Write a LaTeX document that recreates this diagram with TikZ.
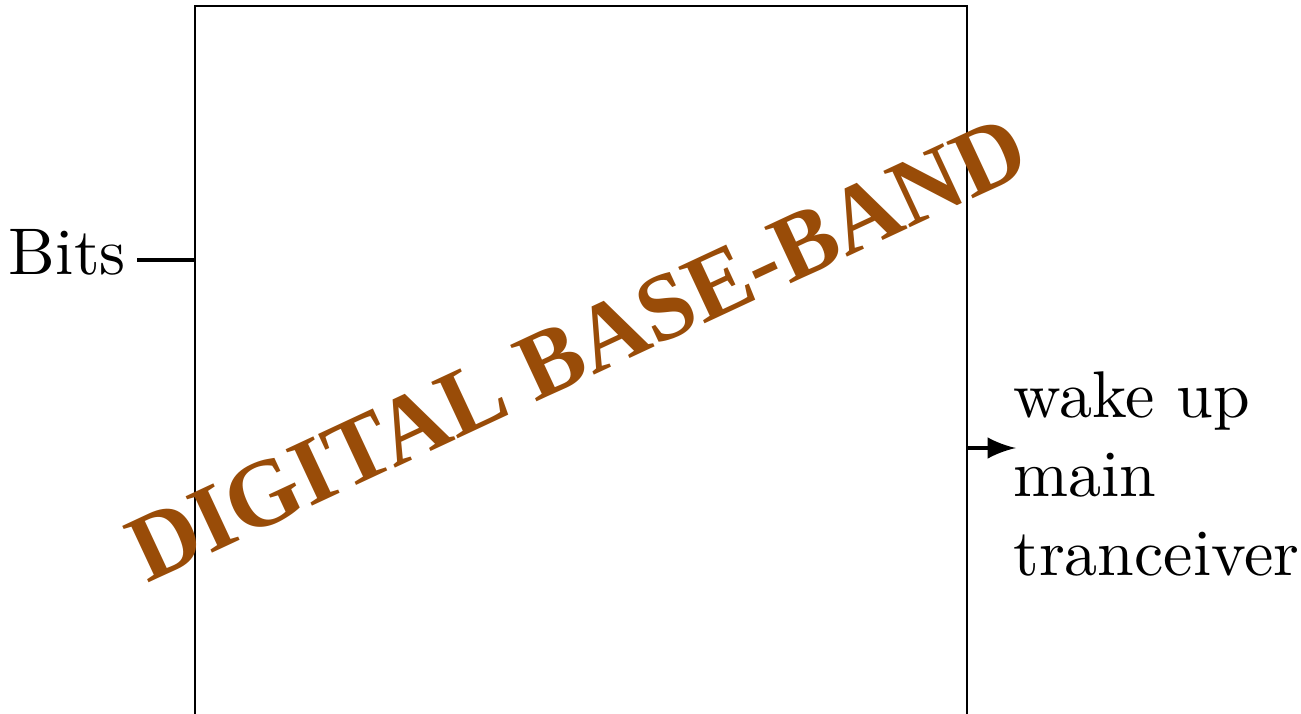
\documentclass[tikz,border=0pt]{standalone}
\usepackage{fontspec}
\newfontfamily\wmfont{Liberation Serif}
\definecolor{wmbrown}{RGB}{153,76,8}
\begin{document}
\begin{tikzpicture}[x=0.151515pt,y=-0.151515pt,
  lbl/.style={inner sep=0pt, font=\fontsize{10}{12}\selectfont},
  wm/.style={inner sep=0pt, text=wmbrown, font=\wmfont\bfseries\fontsize{14.4}{17}\selectfont},
  wire/.style={line width=0.6pt},
  sig/.style={line width=0.5pt, -latex}]
\useasboundingbox (0,0) rectangle (1301,713);
% block
\coordinate (tl) at (195,6);
\coordinate (br) at (967,760);
\draw[line width=0.4pt] (tl) rectangle (br);
% input
\node[lbl, anchor=base east] (bits) at (127,274) {Bits};
\coordinate (bin) at (195,260);
\coordinate (bstart) at (137,260);
\draw[wire] (bstart) -- (bin);
% output
\coordinate (bout) at (967,448);
\coordinate (tip) at (1016,448);
\draw[sig] (bout) -- (tip);
\node[lbl, anchor=north west, align=left] (wake) at (1012,370) {wake up\\main\\tranceiver};
% watermark
\node[wm, anchor=base west, rotate=25] (dbb) at (146,584) {DIGITAL BASE-BAND};
\end{tikzpicture}
\end{document}
